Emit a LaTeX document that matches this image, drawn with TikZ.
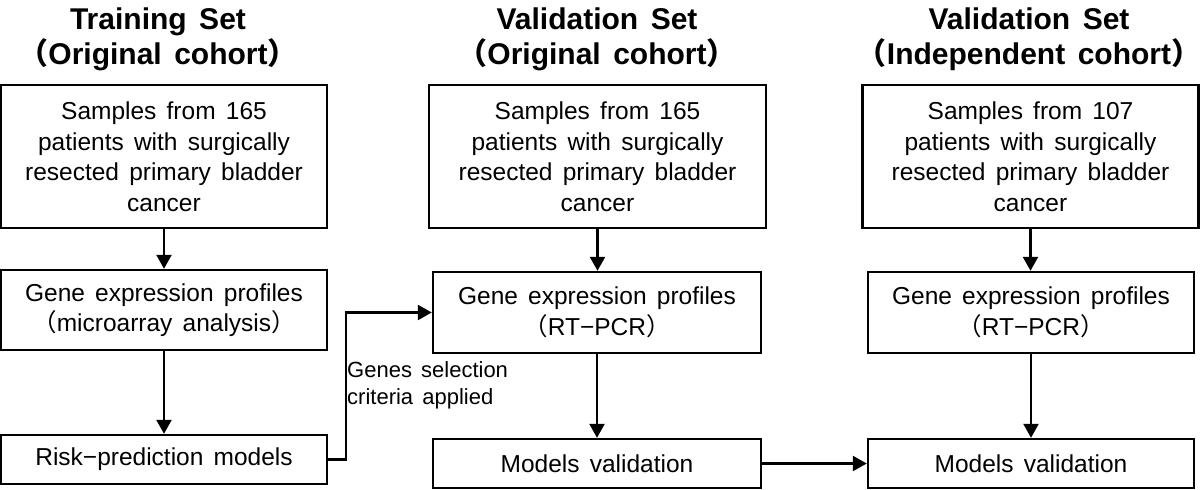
\documentclass[tikz,border=0pt]{standalone}
\usepackage{fontspec}
\setmainfont{Liberation Sans}[WordSpace=1.5]
\newfontfamily\cjk{Noto Sans CJK JP}
\newcommand\fwopen{{\cjk （}}
\newcommand\fwclose{{\cjk ）}}
\usepackage{tikz}
\usetikzlibrary{arrows.meta,positioning}

\begin{document}
\begin{tikzpicture}[x=1pt,y=-1pt,
    box/.style={draw=black,line width=2.4pt,inner sep=0pt,align=center,
                font=\fontsize{24.5}{30.5}\selectfont},
    head/.style={inner sep=0pt,align=center,anchor=north,
                 font=\fontsize{30}{35}\selectfont\bfseries},
    note/.style={inner sep=0pt,align=left,anchor=north west,
                 font=\fontsize{22}{27.5}\selectfont},
    arr/.style={line width=2.4pt,-{Triangle[length=14pt,width=15pt]}}]
                    \useasboundingbox (0,0) rectangle (1200,490);
                    % column headers
                    \node (h1) [head] at (158,8) {Training Set\\\fwopen Original cohort\fwclose};
                    \node (h2) [head] at (597,8) {Validation Set\\\fwopen Original cohort\fwclose};
                    \node (h3) [head] at (1029,8) {Validation Set\\\fwopen Independent cohort\fwclose};
                    % training set
                    \node (s1) [box,minimum width=326,minimum height=143] at (164,156.5)
                        {Samples from 165\\patients with surgically\\resected primary bladder\\cancer};
                    \node (g1) [box,minimum width=326,minimum height=80] at (164,310)
                        {Gene expression profiles\\\fwopen microarray analysis\fwclose};
                    \node (r1) [box,minimum width=326,minimum height=49] at (164,459.5)
                        {Risk−prediction models};
                    % validation set, original cohort
                    \node (s2) [box,minimum width=337,minimum height=143] at (597.5,156.5)
                        {Samples from 165\\patients with surgically\\resected primary bladder\\cancer};
                    \node (g2) [box,minimum width=328,minimum height=81] at (597,312.5)
                        {Gene expression profiles\\\fwopen RT−PCR\fwclose};
                    \node (m2) [box,minimum width=328,minimum height=49] at (597,463.5)
                        {Models validation};
                    % validation set, independent cohort
                    \node (s3) [box,minimum width=336,minimum height=143] at (1030.5,156.5)
                        {Samples from 107\\patients with surgically\\resected primary bladder\\cancer};
                    \node (g3) [box,minimum width=326,minimum height=81] at (1031,312.5)
                        {Gene expression profiles\\\fwopen RT−PCR\fwclose};
                    \node (m3) [box,minimum width=326,minimum height=49] at (1031,463.5)
                        {Models validation};
                    \node (crit) [note] at (347,361) {Genes selection\\criteria applied};
                    % arrows
                    \draw [arr] (s1) -- (g1);
                    \draw [arr] (g1) -- (r1);
                    \draw [arr] (r1.east) -- ++(18,0) |- (g2.west);
                    \draw [arr] (s2.south) -- (s2.south |- g2.north);
                    \draw [arr] (g2) -- (m2);
                    \draw [arr] (s3.south) -- (s3.south |- g3.north);
                    \draw [arr] (g3) -- (m3);
                    \draw [arr] (m2) -- (m3);
                \end{tikzpicture}
\end{document}
